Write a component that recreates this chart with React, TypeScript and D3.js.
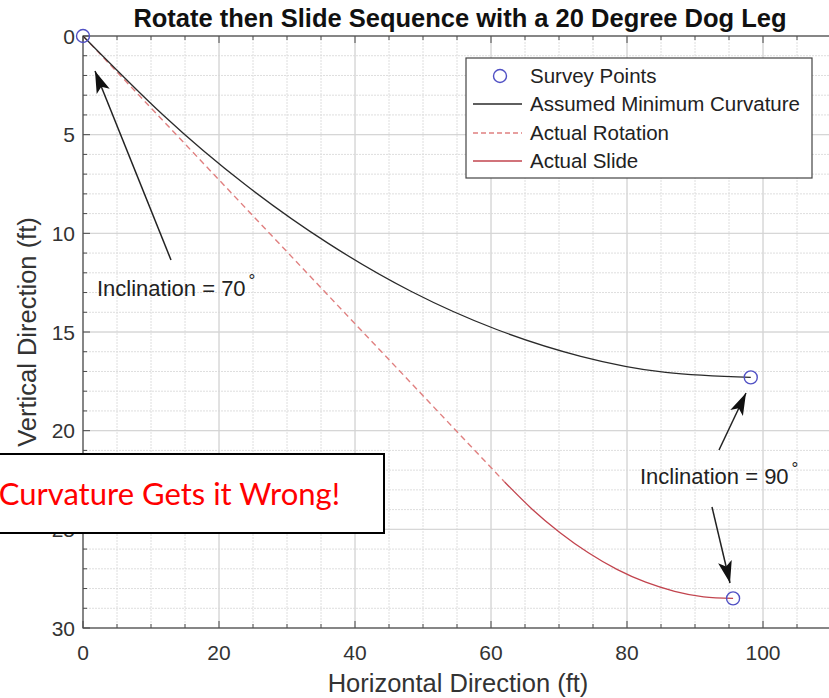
import React from "react";
import * as d3 from "d3";

const title = "Rotate then Slide Sequence with a 20 Degree Dog Leg";
const xLabel = "Horizontal Direction (ft)";
const yLabel = "Vertical Direction (ft)";
const xTicks = [0, 20, 40, 60, 80, 100];
const yTicks = [0, 5, 10, 15, 20, 25, 30];
const xMinor = d3.range(0, 111, 5);
const yMinor = d3.range(0, 31, 1);

const surveyX = [0, 98.2, 95.6];
const surveyY = [0, 17.3, 28.5];
const minCurvX = [0, 11.86, 23.89, 36.07, 48.36, 60.74, 73.2, 85.7, 98.2];
const minCurvY = [0, 4.03, 7.54, 10.51, 12.96, 14.86, 16.23, 17.05, 17.3];
const rotationX = [0, 62.0];
const rotationY = [0, 22.6];
const slideX = [62.0, 66.05, 70.16, 74.32, 78.52, 82.75, 87.0, 91.27, 95.6];
const slideY = [22.6, 23.98, 25.17, 26.19, 27.03, 27.68, 28.14, 28.42, 28.5];
const legendLabels = ["Survey Points", "Assumed Minimum Curvature", "Actual Rotation", "Actual Slide"];

const W = 829, H = 698;
const L = 83, R = 831, T = 36, B = 628;
const FONT = "'Liberation Sans', Arial, sans-serif";

export default function App() {
  const x = d3.scaleLinear().domain([0, 110]).range([L, R]);
  const y = d3.scaleLinear().domain([0, 30]).range([T, B]);
  const line = (xs: number[], ys: number[]) =>
    d3.line<number>().x((_, i) => x(xs[i])).y((_, i) => y(ys[i])).curve(d3.curveNatural)(xs) || "";

  const blue = "#5050c4";
  const black = "#2a2a2a";
  const redDash = "#e08080";
  const redSolid = "#c2444e";
  const axisCol = "#4a4a4a";
  const tickText = "#333";

  const arrows = [
    { x1: 171, y1: 260, x2: 95, y2: 71 },
    { x1: 719, y1: 450, x2: 746, y2: 393 },
    { x1: 712, y1: 507, x2: 730, y2: 583 },
  ];
  const legendY = [76, 104, 133, 161];

  return (
    <svg width={W} height={H} style={{ position: "absolute", left: 0, top: 0, background: "#fff" }} fontFamily={FONT}>
      <defs>
        <marker id="ah" viewBox="0 0 22 14" refX="22" refY="7" markerWidth="22" markerHeight="14" markerUnits="userSpaceOnUse" orient="auto">
          <path d="M0,0 L22,7 L0,14 L5,7 Z" fill="#111" />
        </marker>
        <clipPath id="plot"><rect x={L} y={T} width={R - L} height={B - T} /></clipPath>
      </defs>
      <rect x={0} y={0} width={W} height={H} fill="#fff" />
      {/* minor grid */}
      {xMinor.map((v) => (
        <line key={"gx" + v} x1={x(v)} x2={x(v)} y1={T} y2={B} stroke="#dedede" strokeWidth={1} strokeDasharray={xTicks.includes(v) ? undefined : "2,1"} />
      ))}
      {yMinor.map((v) => (
        <line key={"gy" + v} x1={L} x2={R} y1={y(v)} y2={y(v)} stroke="#dedede" strokeWidth={1} strokeDasharray={yTicks.includes(v) ? undefined : "2,1"} />
      ))}
      {xTicks.map((v) => (
        <line key={"Gx" + v} x1={x(v)} x2={x(v)} y1={T} y2={B} stroke="#d4d4d4" strokeWidth={1} />
      ))}
      {yTicks.map((v) => (
        <line key={"Gy" + v} x1={L} x2={R} y1={y(v)} y2={y(v)} stroke="#d4d4d4" strokeWidth={1} />
      ))}
      {/* axes box */}
      <rect x={L} y={T} width={R - L} height={B - T} fill="none" stroke={axisCol} strokeWidth={1.2} />
      {xMinor.map((v) => {
        const len = xTicks.includes(v) ? 7 : 4;
        return (
          <g key={"tx" + v}>
            <line x1={x(v)} x2={x(v)} y1={B} y2={B - len} stroke={axisCol} />
            <line x1={x(v)} x2={x(v)} y1={T} y2={T + len} stroke={axisCol} />
          </g>
        );
      })}
      {yMinor.map((v) => {
        const len = yTicks.includes(v) ? 7 : 4;
        return <line key={"ty" + v} x1={L} x2={L + len} y1={y(v)} y2={y(v)} stroke={axisCol} />;
      })}
      {xTicks.map((v) => (
        <text key={"lx" + v} x={x(v)} y={B + 32} textAnchor="middle" fontSize={21} fill={tickText}>{v}</text>
      ))}
      {yTicks.map((v) => (
        <text key={"ly" + v} x={L - 8} y={y(v) + 7.5} textAnchor="end" fontSize={21} fill={tickText}>{v}</text>
      ))}
      <text x={460} y={27} textAnchor="middle" fontSize={25.5} fontWeight="bold" fill="#111">{title}</text>
      <text x={458} y={692} textAnchor="middle" fontSize={25.5} fill="#333">{xLabel}</text>
      <text transform={`translate(36,${(T + B) / 2}) rotate(-90)`} textAnchor="middle" fontSize={25.5} fill="#333">{yLabel}</text>

      {/* data */}
      <g clipPath="url(#plot)">
        <path d={line(rotationX, rotationY)} fill="none" stroke={redDash} strokeWidth={1.4} strokeDasharray="6,4" />
        <path d={line(slideX, slideY)} fill="none" stroke={redSolid} strokeWidth={1.3} />
        <path d={line(minCurvX, minCurvY)} fill="none" stroke={black} strokeWidth={1.3} />
      </g>
      {surveyX.map((v, i) => (
        <circle key={"s" + i} cx={x(v)} cy={y(surveyY[i])} r={6.5} fill="none" stroke={blue} strokeWidth={1.4} />
      ))}

      {/* legend */}
      <rect x={466} y={58} width={346} height={120} fill="#fff" stroke="#444" strokeWidth={1.2} />
      <circle cx={500} cy={legendY[0]} r={6.5} fill="none" stroke={blue} strokeWidth={1.4} />
      <line x1={473} x2={522} y1={legendY[1]} y2={legendY[1]} stroke={black} strokeWidth={1.3} />
      <line x1={473} x2={522} y1={legendY[2]} y2={legendY[2]} stroke={redDash} strokeWidth={1.3} strokeDasharray="5,3" />
      <line x1={473} x2={522} y1={legendY[3]} y2={legendY[3]} stroke={redSolid} strokeWidth={1.6} />
      {legendLabels.map((t, i) => (
        <text key={t} x={530} y={legendY[i] + 7} fontSize={20.5} fill="#222">{t}</text>
      ))}

      {/* annotations */}
      {arrows.map((a, i) => (
        <line key={"a" + i} x1={a.x1} y1={a.y1} x2={a.x2} y2={a.y2} stroke="#222" strokeWidth={1.5} markerEnd="url(#ah)" />
      ))}
      <text x={97} y={296} fontSize={22} fill="#222">Inclination = 70<tspan dx={3} dy={-10} fontSize={17}>°</tspan></text>
      <text x={640} y={484} fontSize={22} fill="#222">Inclination = 90<tspan dx={3} dy={-10} fontSize={17}>°</tspan></text>

      {/* callout box */}
      <rect x={-10} y={454} width={394} height={79} fill="#fff" stroke="#000" strokeWidth={2} />
      <text x={340} y={505} textAnchor="end" fontSize={31} fill="#ff0000" fontFamily="Lato, 'Open Sans', sans-serif">Curvature Gets it Wrong!</text>
    </svg>
  );
}
